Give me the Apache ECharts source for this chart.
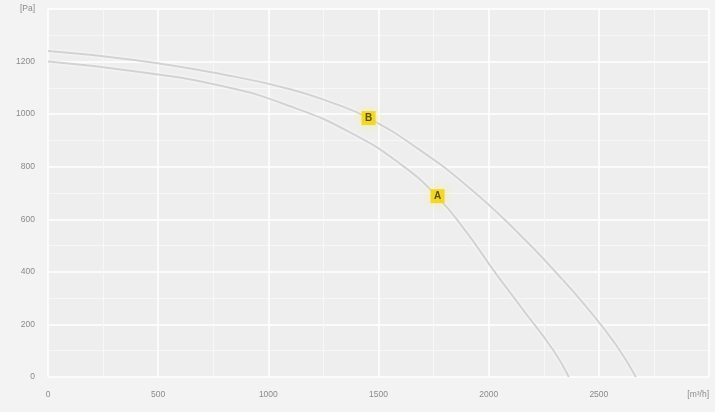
<!DOCTYPE html>
<html><head><meta charset="utf-8">
<script src="https://cdn.jsdelivr.net/npm/echarts@6/dist/echarts.min.js"></script>
<style>html,body{margin:0;padding:0;background:#f3f3f3}#c{width:715px;height:412px}</style>
</head><body><div id="c"></div>
<script>
const flowA = [0, 400, 800, 1100, 1373, 1600, 1768, 1900, 2023, 2145, 2295, 2364];
const pressA = [1200, 1162, 1105, 1030, 930, 810, 685, 550, 405, 268, 100, 0];
const flowB = [0, 400, 800, 1100, 1300, 1455, 1677, 1905, 2132, 2314, 2450, 2580, 2668];
const pressB = [1240, 1205, 1150, 1095, 1040, 985, 870, 725, 550, 390, 260, 120, 0];
const curveLabels = [['A', 1768, 688], ['B', 1455, 985]];
const xUnit = '[m³/h]';
const yUnit = '[Pa]';

const zip = (a, b) => a.map((v, i) => [v, b[i]]);
const lineStyle = {color: '#d2d2d2', width: 2, shadowColor: '#ffffff', shadowBlur: 3};
const chart = echarts.init(document.getElementById('c'));
chart.setOption({
  backgroundColor: '#f3f3f3',
  animation: false,
  grid: {left: 48, right: 6, top: 9, bottom: 35, backgroundColor: '#eeeeee', show: true, borderWidth: 0},
  xAxis: {
    type: 'value', min: 0, max: 3000, interval: 500,
    axisLine: {show: false}, axisTick: {show: false},
    splitLine: {lineStyle: {color: '#ffffff', width: 1.5}},
    minorTick: {show: false, splitNumber: 2},
    minorSplitLine: {show: true, lineStyle: {color: '#f7f7f7', width: 1}},
    axisLabel: {color: '#8a8a8a', fontSize: 8.5, margin: 13, alignMaxLabel: 'right',
      formatter: v => v === 3000 ? xUnit : String(v)}
  },
  yAxis: {
    type: 'value', min: 0, max: 1400, interval: 200,
    axisLine: {show: false}, axisTick: {show: false},
    splitLine: {lineStyle: {color: '#ffffff', width: 1.5}},
    minorTick: {show: false, splitNumber: 2},
    minorSplitLine: {show: true, lineStyle: {color: '#f7f7f7', width: 1}},
    axisLabel: {color: '#8a8a8a', fontSize: 8.5, margin: 13,
      formatter: v => v === 1400 ? yUnit : String(v)}
  },
  series: [
    {type: 'line', data: zip(flowA, pressA), smooth: 0.5, showSymbol: false, lineStyle},
    {type: 'line', data: zip(flowB, pressB), smooth: 0.5, showSymbol: false, lineStyle},
    {type: 'scatter', data: curveLabels.map(l => ({value: [l[1], l[2]], name: l[0]})),
      symbol: 'rect', symbolSize: 14, z: 5,
      itemStyle: {color: '#f0cf10', shadowColor: '#fff36a', shadowBlur: 8},
      label: {show: true, position: 'inside', formatter: p => p.name, color: '#3a3000', fontSize: 10, fontWeight: 'bold'}}
  ]
});
</script></body></html>
